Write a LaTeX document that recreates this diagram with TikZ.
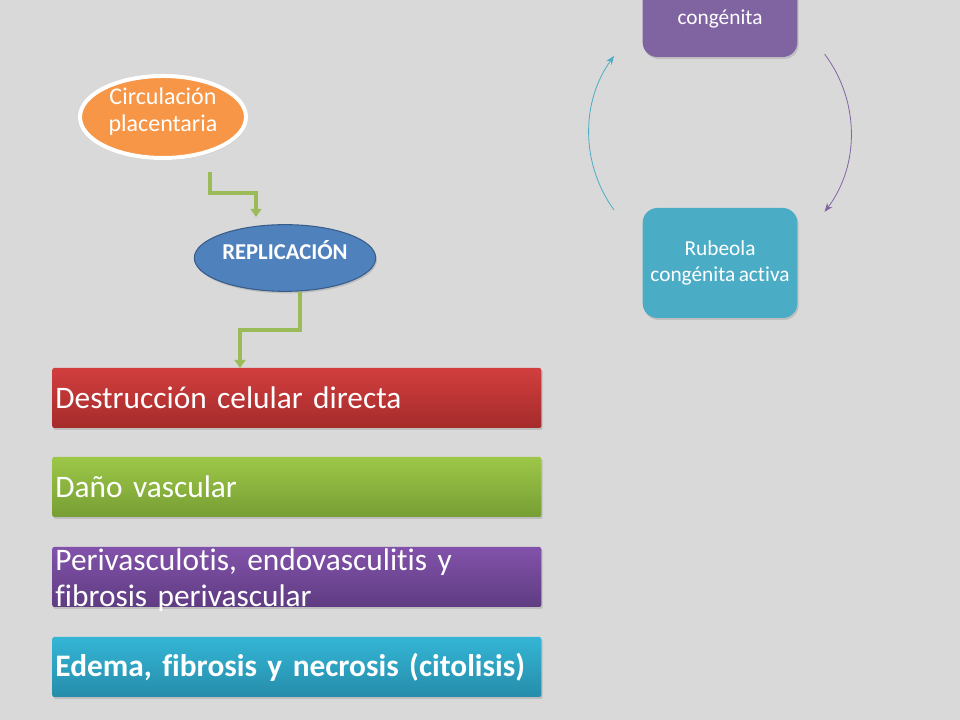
\documentclass[tikz,border=0pt]{standalone}
\usepackage{fontspec}
\setmainfont{Carlito}[Ligatures=NoCommon, WordSpace=0.7]
\usepackage{xcolor}
\usepackage{tikz}
\usetikzlibrary{shapes.geometric, arrows.meta, shadows}
\definecolor{slidegray}{RGB}{217, 217, 217}
\definecolor{ptorange}{RGB}{247, 150, 70}
\definecolor{ptblue}{RGB}{79, 129, 189}
\definecolor{ptblueline}{RGB}{56, 93, 138}
\definecolor{ptpurple}{RGB}{128, 100, 162}
\definecolor{ptcyan}{RGB}{75, 172, 198}
\definecolor{ptgreen}{RGB}{155, 187, 89}
\definecolor{redtop}{RGB}{210, 62, 62}
\definecolor{redbot}{RGB}{165, 43, 43}
\definecolor{greentop}{RGB}{157, 199, 72}
\definecolor{greenbot}{RGB}{119, 158, 52}
\definecolor{purpletop}{RGB}{130, 82, 170}
\definecolor{purplebot}{RGB}{95, 60, 130}
\definecolor{cyantop}{RGB}{52, 182, 214}
\definecolor{cyanbot}{RGB}{38, 140, 170}

\tikzset{
  softshadow/.style={drop shadow={shadow xshift=1pt, shadow yshift=-1.5pt, opacity=0.3}},
  bar/.style={rectangle, rounded corners=1.5pt, softshadow, minimum width=366.75pt,
    minimum height=45pt, text width=362pt, inner xsep=2pt, align=left,
    text=white, font=\fontsize{23.5}{28}\selectfont, anchor=west},
  cycbox/.style={rectangle, rounded corners=11pt, softshadow, minimum width=116pt,
    minimum height=82.5pt, align=center, text=white, font=\fontsize{16}{19.2}\selectfont},
  flow/.style={ptgreen, line width=3pt, -{Triangle[length=6pt, width=8pt]}},
  cycarr/.style={line width=0.6pt, -{Stealth[length=6.5pt, width=5pt]}}
}

\begin{document}
\begin{tikzpicture}[x=0.75pt, y=0.75pt]
\useasboundingbox (0,0) rectangle (960,720);
\fill[slidegray] (0,0) rectangle (960,720);

% Circulacion placentaria
\node[ellipse, fill=ptorange, draw=white, line width=3pt, softshadow, inner sep=0pt,
  minimum width=124.5pt, minimum height=60pt, align=center, text=white, text depth=11pt,
  font=\fontsize{18}{20}\selectfont] (circ) at (163,603) {Circulación\\placentaria};

% Replicacion
\node[ellipse, fill=ptblue, draw=ptblueline, line width=0.8pt, softshadow, inner sep=0pt,
  minimum width=136pt, minimum height=50pt, text=white, text depth=12pt,
  font=\fontsize{17}{20}\selectfont\bfseries] (repl) at (285,462) {REPLICACIÓN};

% Effects
\node[bar, top color=redtop, bottom color=redbot] (destr) at (52,322) {Destrucción celular directa};
\node[bar, top color=greentop, bottom color=greenbot] (dano) at (52,233) {Daño vascular};
\node[bar, top color=purpletop, bottom color=purplebot, inner ysep=0pt, text height=17.5pt,
  text depth=27.5pt, font=\fontsize{23.5}{27}\selectfont] (periv) at (52,143) {Perivasculotis, endovasculitis y\\fibrosis perivascular};
\node[bar, top color=cyantop, bottom color=cyanbot, font=\fontsize{23.5}{28}\selectfont\bfseries] (edema) at (52,53) {Edema, fibrosis y necrosis (citolisis)};

% Green connectors
\coordinate (c1s) at (210,548);
\coordinate (c1e) at (256,503);
\coordinate (c2s) at (300,428);
\coordinate (c2e) at (240,352);
\draw[flow] (c1s) -- ++(0,-21) -| (c1e);
\draw[flow] (c2s) -- ++(0,-38) -| (c2e);

% Cycle
\node[cycbox, fill=ptpurple, text height=38pt, text depth=4pt] (congen) at (720,718) {congénita};
\node[cycbox, fill=ptcyan] (rubact) at (720,457) {Rubeola\\congénita activa};

\coordinate (cyc) at (720,587);
\coordinate (cycL) at ([shift={(216:131)}]cyc);
\coordinate (cycR) at ([shift={(37:131)}]cyc);
\draw[cycarr, ptcyan] (cycL) arc[start angle=216, end angle=144, radius=131];
\draw[cycarr, ptpurple] (cycR) arc[start angle=37, end angle=-37, radius=131];
\end{tikzpicture}
\end{document}
